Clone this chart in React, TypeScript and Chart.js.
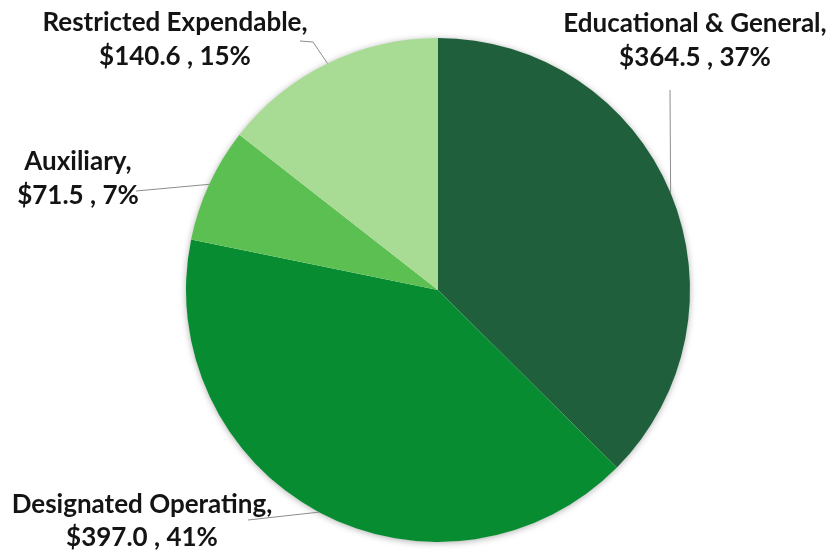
import React, { useEffect, useRef } from "react";
import { Chart, registerables } from "chart.js";

Chart.register(...registerables);

const categories = ["Educational & General", "Designated Operating", "Auxiliary", "Restricted Expendable"];
const values = [364.5, 397.0, 71.5, 140.6];
const percentLabels = ["37%", "41%", "7%", "15%"];
const colors = ["#1f5f3b", "#078c31", "#5cbf51", "#a8db93"];

// label layout: center of text block, line y positions, and leader anchor points
const labelLayout = [
  { cx: 695, y1: 24, y2: 58, anchor: [[670, 90]] },
  { cx: 142, y1: 505, y2: 538, anchor: [[248, 520]] },
  { cx: 78, y1: 162, y2: 196, anchor: [[136, 191]] },
  { cx: 175, y1: 23, y2: 57, anchor: [[313, 42], [300, 41]] },
];

const labelPlugin = {
  id: "excelLabels",
  beforeDatasetsDraw(chart: any) {
    const meta = chart.getDatasetMeta(0);
    const a = meta.data[0];
    if (!a) return;
    const ctx = chart.ctx;
    ctx.save();
    ctx.shadowColor = "rgba(0,0,0,0.35)";
    ctx.shadowBlur = 7;
    ctx.shadowOffsetX = 0;
    ctx.shadowOffsetY = 1;
    ctx.beginPath();
    ctx.arc(a.x, a.y, a.outerRadius - 0.5, 0, Math.PI * 2);
    ctx.fillStyle = "#ffffff";
    ctx.fill();
    ctx.restore();
  },
  afterDatasetsDraw(chart: any) {
    const meta = chart.getDatasetMeta(0);
    const ctx = chart.ctx;
    ctx.save();
    meta.data.forEach((arc: any, i: number) => {
      const mid = (arc.startAngle + arc.endAngle) / 2;
      const px = arc.x + Math.cos(mid) * arc.outerRadius;
      const py = arc.y + Math.sin(mid) * arc.outerRadius;
      const lay = labelLayout[i];
      ctx.beginPath();
      ctx.moveTo(px, py);
      lay.anchor.forEach((p) => ctx.lineTo(p[0], p[1]));
      ctx.strokeStyle = "#8c8c8c";
      ctx.lineWidth = 1;
      ctx.stroke();
      ctx.fillStyle = "#141414";
      ctx.font = "bold 26px Lato, 'Open Sans', sans-serif";
      ctx.textAlign = "center";
      ctx.textBaseline = "middle";
      ctx.fillText(categories[i] + ",", lay.cx, lay.y1);
      ctx.fillText("$" + values[i].toFixed(1) + " , " + percentLabels[i], lay.cx, lay.y2);
    });
    ctx.restore();
  },
};

export default function App() {
  const ref = useRef<HTMLCanvasElement | null>(null);
  useEffect(() => {
    if (!ref.current) return;
    const chart = new Chart(ref.current, {
      type: "pie",
      data: {
        labels: categories,
        datasets: [
          {
            data: values,
            backgroundColor: colors,
            borderWidth: 0,
          },
        ],
      },
      options: {
        animation: false,
        responsive: false,
        maintainAspectRatio: false,
        layout: { padding: { top: 38, bottom: 12, left: 186, right: 149 } },
        plugins: {
          legend: { display: false },
          tooltip: { enabled: false },
        },
      },
      plugins: [labelPlugin],
    });
    return () => chart.destroy();
  }, []);
  return (
    <div style={{ position: "fixed", left: 0, top: 0, width: 839, height: 554, background: "#fff" }}>
      <canvas ref={ref} width={839} height={554} style={{ width: 839, height: 554 }} />
    </div>
  );
}
